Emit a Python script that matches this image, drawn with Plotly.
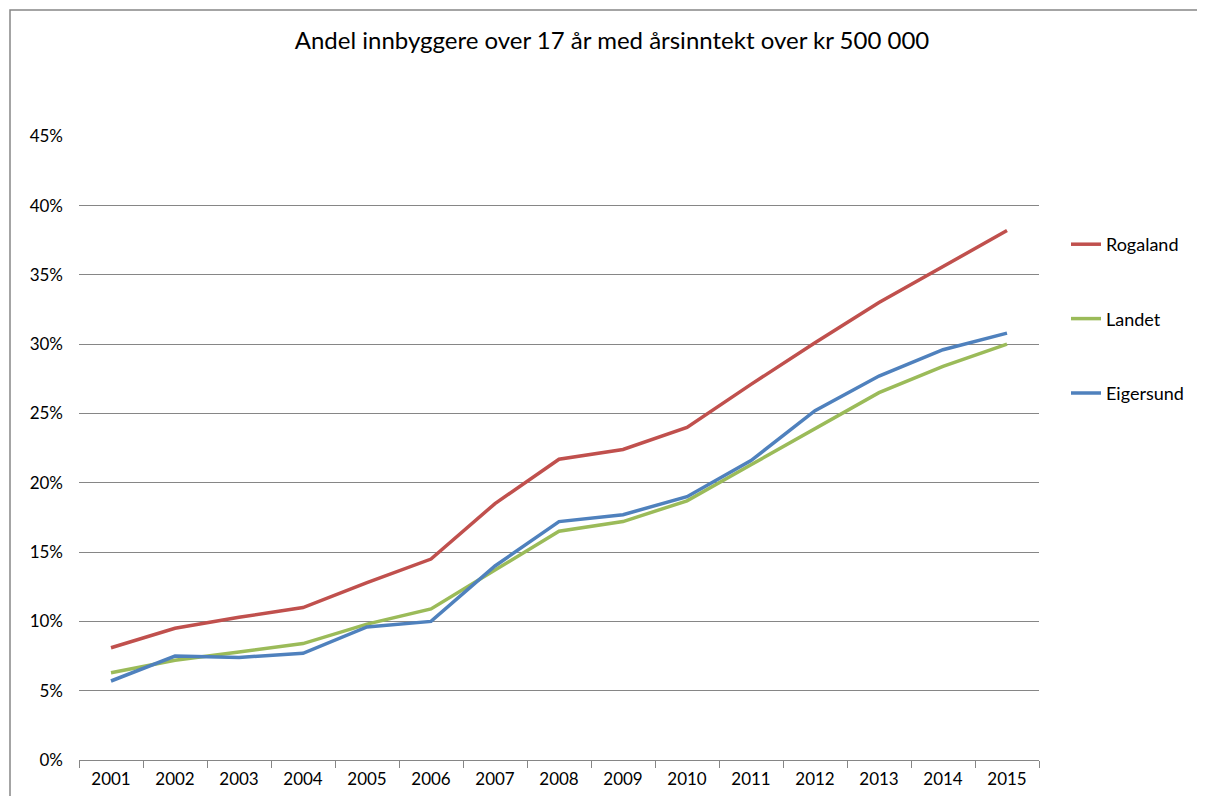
import plotly.graph_objects as go

years = [str(y) for y in range(2001, 2016)]
rogaland = [8.1, 9.5, 10.3, 11.0, 12.8, 14.5, 18.5, 21.7, 22.4, 24.0, 27.1, 30.1, 33.0, 35.6, 38.2]
landet = [6.3, 7.2, 7.8, 8.4, 9.8, 10.9, 13.7, 16.5, 17.2, 18.7, 21.3, 23.9, 26.5, 28.4, 30.0]
eigersund = [5.7, 7.5, 7.4, 7.7, 9.6, 10.0, 14.0, 17.2, 17.7, 19.0, 21.6, 25.2, 27.7, 29.6, 30.8]
y_ticks = list(range(0, 50, 5))
y_ticktext = [f"{v}%" for v in y_ticks]

series = [("Rogaland", rogaland, "#C0504D"),
          ("Landet", landet, "#9BBB59"),
          ("Eigersund", eigersund, "#4F81BD")]

FONT = "Lato, 'Open Sans', sans-serif"

fig = go.Figure()
for name, vals, col in series:
    fig.add_trace(go.Scatter(x=years, y=vals, name=name, mode="lines",
                             legendgroup=name,
                             line=dict(color=col, width=3.5)))

OFF = 8  # page body margin
W, H = 1205 - OFF, 796 - OFF
# plot area in viewport pixels: x 79..1039, y 136..760
L = 79 - OFF
T = 136 - OFF
R = W - (1039 - OFF)
B = H - (760 - OFF)
pw, ph = W - L - R, H - T - B

def px_x(p):  # viewport px -> paper
    return (p - OFF - L) / pw

def px_y(p):
    return (H - B - (p - OFF)) / ph

fig.update_layout(
    width=W, height=H,
    margin=dict(l=L, r=R, t=T, b=B, autoexpand=False),
    paper_bgcolor="white", plot_bgcolor="white",
    font=dict(family=FONT, size=16, color="#000000"),
    title=dict(text="Andel innbyggere over 17 år med årsinntekt over kr 500 000",
               x=(612 - OFF) / W, xanchor="center", y=1 - (41 - OFF) / H, yanchor="middle",
               xref="container", yref="container",
               font=dict(family=FONT, size=24, color="#000000")),
    xaxis=dict(type="category", range=[-0.5, 14.5], showgrid=False,
               showline=True, linecolor="#868686", linewidth=1,
               ticks="outside", tickson="boundaries", ticklen=7,
               tickcolor="#868686", tickfont=dict(size=17),
               ticklabelstandoff=4, automargin=False),
    yaxis=dict(range=[0, 45.02], tickvals=y_ticks, ticktext=y_ticktext,
               showgrid=True, gridcolor="#868686", gridwidth=1,
               zeroline=False, showline=False, ticks="",
               tickfont=dict(size=17), ticklabelstandoff=15, automargin=False),
    legend=dict(x=px_x(1066), y=px_y(226), xanchor="left", yanchor="top",
                tracegroupgap=48, font=dict(size=18), itemwidth=30),
    shapes=[dict(type="rect", xref="paper", yref="paper",
                 x0=px_x(10), x1=px_x(1200), y0=px_y(830), y1=px_y(10),
                 line=dict(color="#868686", width=1.5), fillcolor="rgba(0,0,0,0)",
                 layer="below")],
)

fig.write_html("out.html")
